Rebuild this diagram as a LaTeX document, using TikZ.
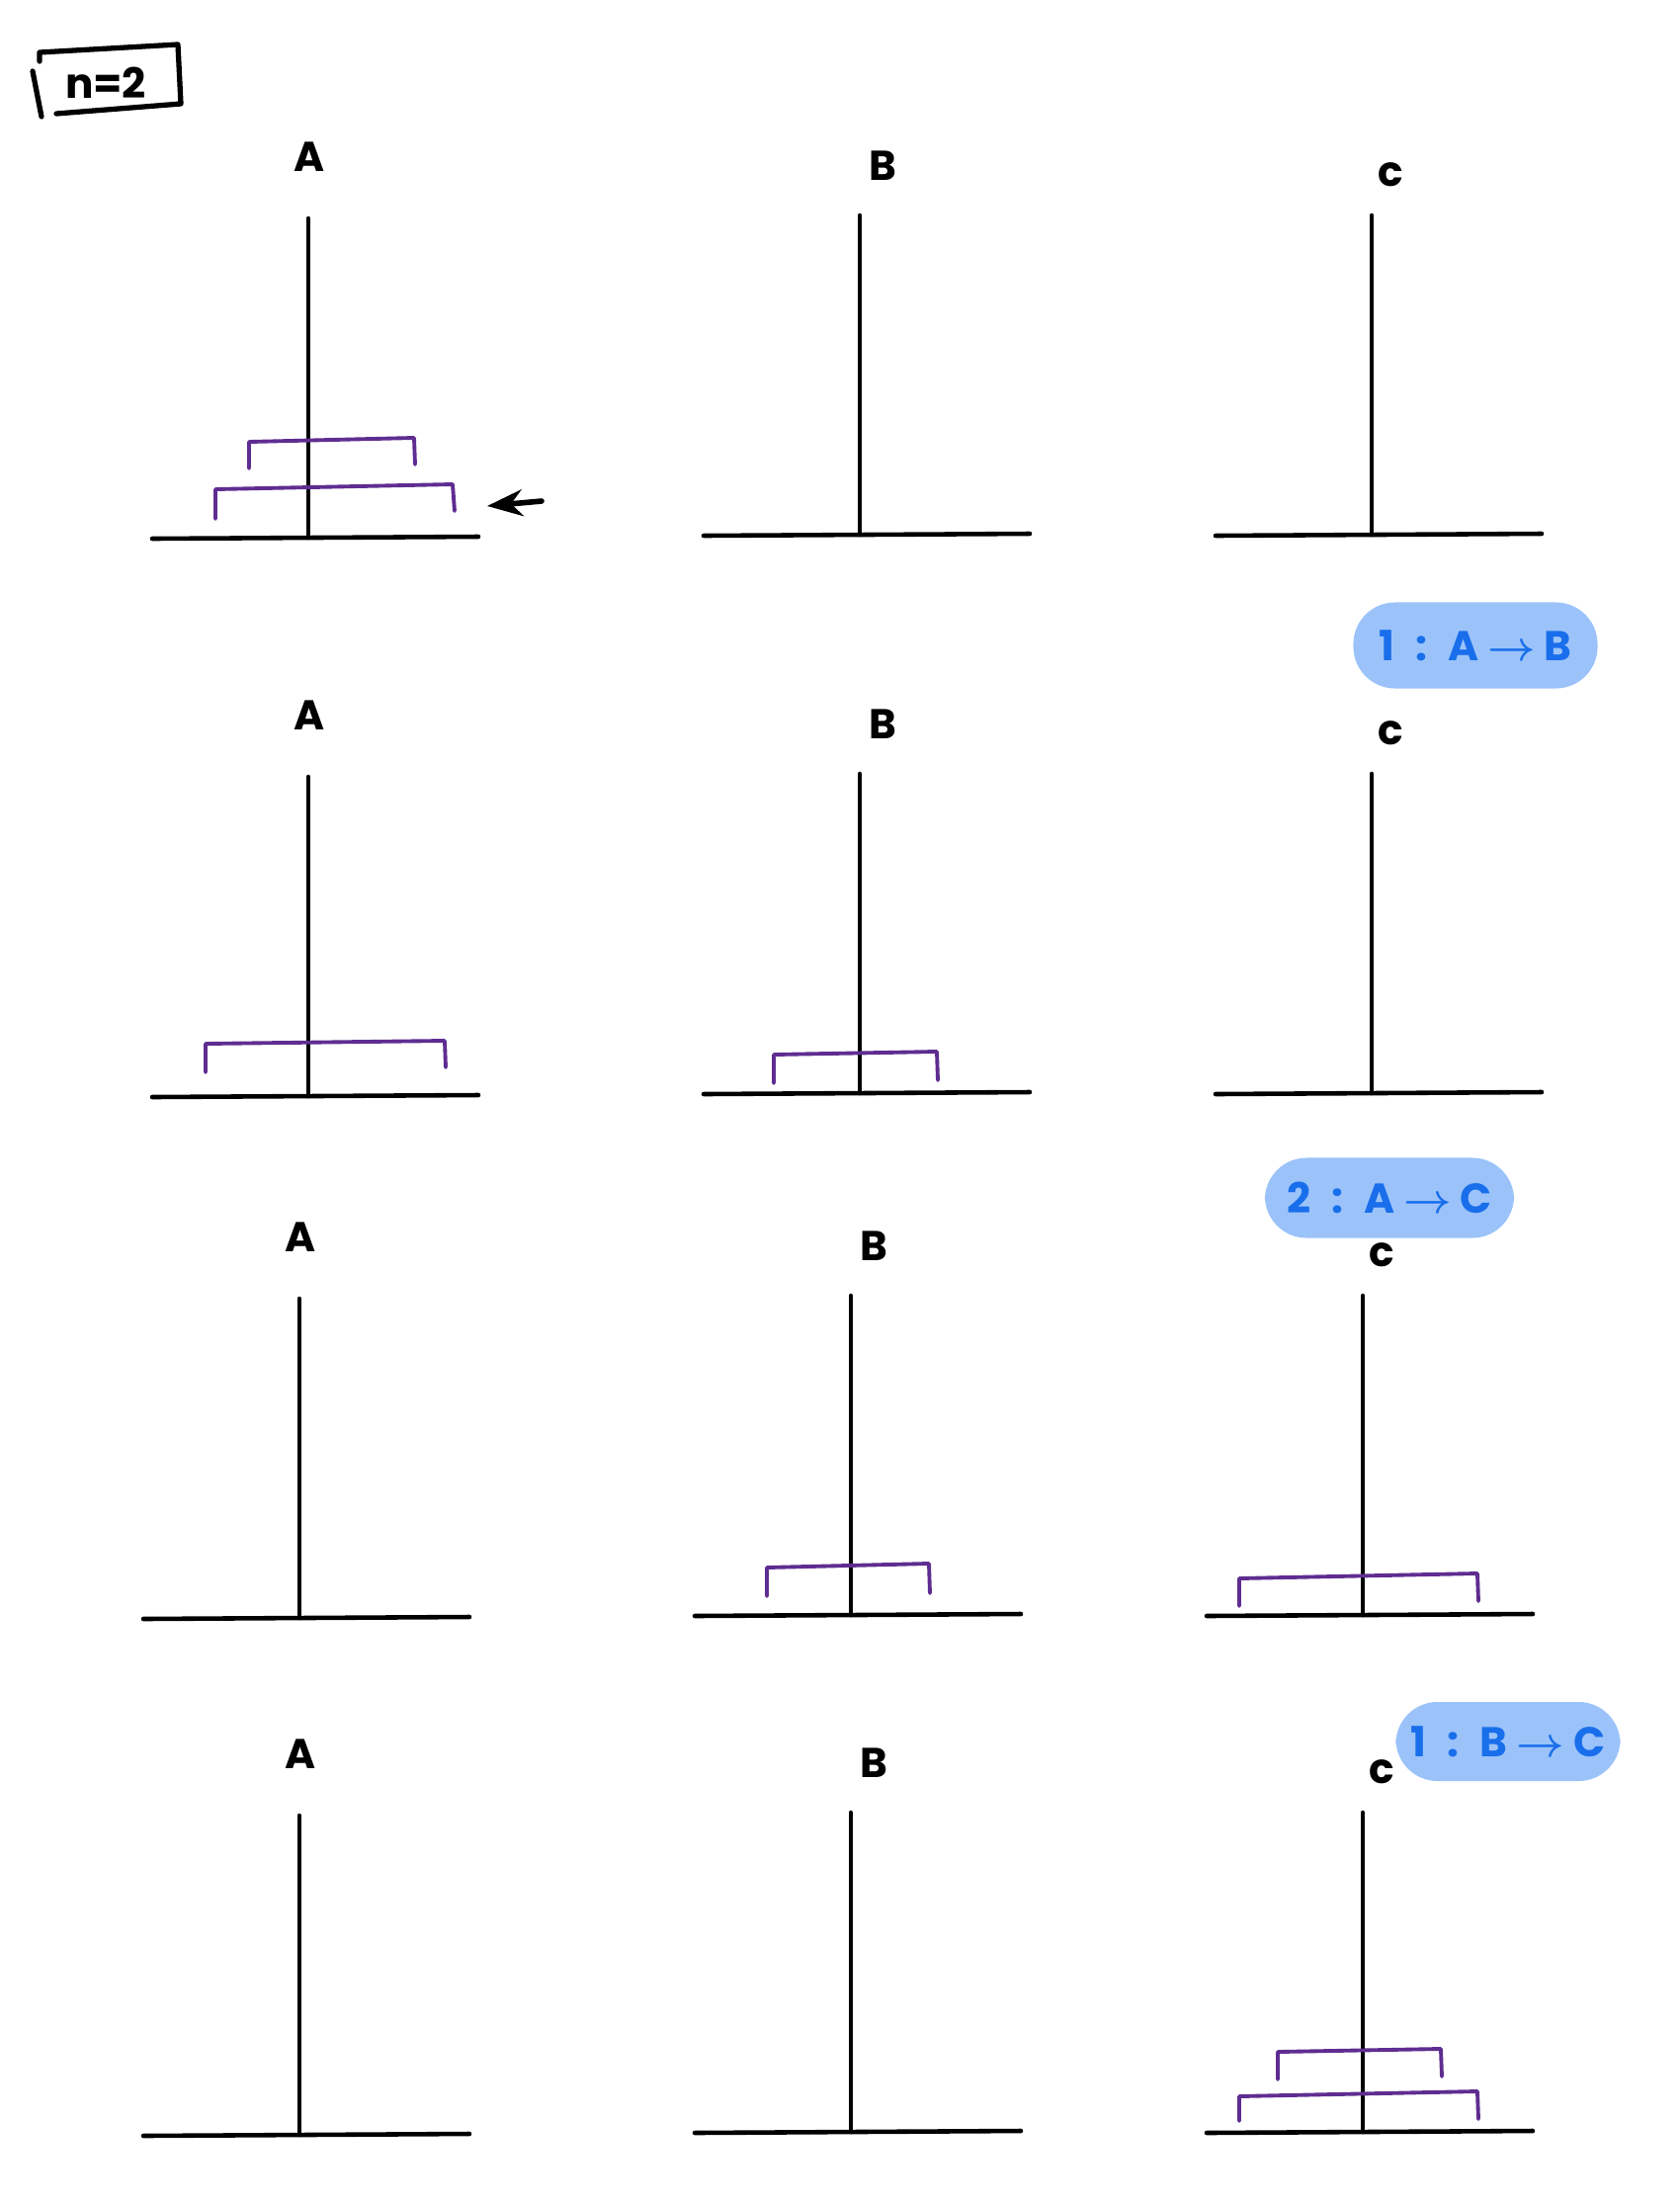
\documentclass[tikz,border=0pt]{standalone}
\usepackage{fontspec}
\setmainfont{Poppins}
\usepackage{tikz}
\usetikzlibrary{arrows.meta,positioning}
\definecolor{diskpurple}{RGB}{95,45,145}
\definecolor{notefill}{RGB}{155,195,250}
\definecolor{noteink}{RGB}{25,110,235}

\begin{document}
\begin{tikzpicture}[x=0.01cm, y=-0.01cm, >=Stealth,
  every node/.style={font=\large\bfseries\boldmath},
  peg/.style={line width=1.3pt, line cap=round},
  disk/.style={diskpurple, line width=1.1pt, line cap=round, line join=round},
  note/.style={fill=notefill, rounded corners=12pt, text=noteink, inner sep=0pt}]
  \useasboundingbox (0,0) rectangle (1700,2232);

  % title box
  \node (title) at (107,84) {n=2};
  \draw[line width=1.5pt, line cap=round, line join=round]
    (40,62) -- (40,53) -- (180,45) -- (183,105) -- (57,115);
  \draw[line width=1.5pt, line cap=round] (33,72) -- (42,118);

  % pegs, bases and tower labels, row by row
  \foreach \r/\ox/\oy in {1/0/0, 2/0/565, 3/-9/1093, 4/-9/1616} {
    \foreach \t/\px/\by/\lx/\ly/\lab in {A/312/544/1/385/A, B/870/541/23/373/B, C/1388/541/19/364/c} {
      \draw[peg] (\px+\ox,\by+\oy-323) -- (\px+\ox,\by+\oy);
      \draw[peg] (\px+\ox-158,\by+\oy+1) -- (\px+\ox+172,\by+\oy-1);
      \node (lab\t\r) at (\px+\ox+\lx,\by+\oy-\ly) {\lab};
    }
  }

  % row 1: both disks on A
  \draw[disk] (252,474) -- (252,447) -- (419,443) -- (420,470);
  \draw[disk] (218,525) -- (218,495) -- (458,490) -- (460,517);
  \coordinate (arrowtail) at (548,507);
  \coordinate (arrowtip) at (493,512);
  \draw[->, line width=1.6pt, line cap=round] (arrowtail) -- (arrowtip);

  % row 2
  \draw[disk] (208,1085) -- (208,1056) -- (450,1053) -- (451,1080);
  \draw[disk] (783,1096) -- (783,1067) -- (948,1064) -- (949,1093);

  % row 3
  \draw[disk] (776,1615) -- (776,1586) -- (940,1582) -- (941,1612);
  \draw[disk] (1254,1625) -- (1254,1597) -- (1495,1592) -- (1496,1620);

  % row 4: both disks on C
  \draw[disk] (1293,2104) -- (1293,2076) -- (1458,2073) -- (1459,2101);
  \draw[disk] (1254,2146) -- (1254,2121) -- (1495,2116) -- (1496,2144);

  % moves
  \node[note, minimum width=2.47cm, minimum height=0.87cm] (move1) at (1493,653)
    {1\enspace:\enspace A $\to$ B};
  \node[note, minimum width=2.52cm, minimum height=0.81cm] (move2) at (1406,1212)
    {2\enspace:\enspace A $\to$ C};
  \node[note, minimum width=2.27cm, minimum height=0.80cm] (move3) at (1526,1762)
    {1\enspace:\enspace B $\to$ C};
\end{tikzpicture}
\end{document}
